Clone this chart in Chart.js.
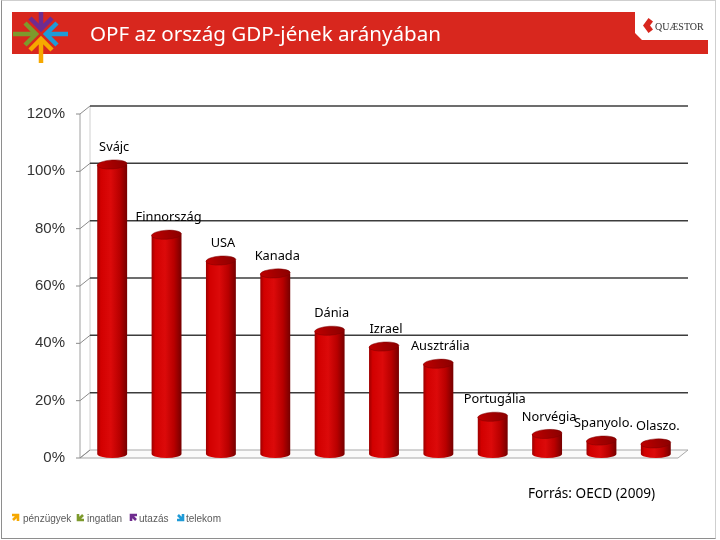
<!DOCTYPE html>
<html>
<head>
<meta charset="utf-8">
<script src="https://cdn.jsdelivr.net/npm/chart.js@4.4.1/dist/chart.umd.min.js"></script>
<style>
  html, body { margin: 0; padding: 0; background: #fff; }
  body { width: 720px; height: 540px; position: relative; overflow: hidden; font-family: "Noto Sans", sans-serif; }
  #frame { position: absolute; left: 1px; top: 0; width: 715px; height: 539px; box-sizing: border-box;
           border: 1px solid #cfcfcf; border-left-color: #8e8e8e; border-bottom-color: #8e8e8e; }
  #chart { position: absolute; left: 0; top: 0; }
  #deco { position: absolute; left: 0; top: 0; pointer-events: none; }
  #title { position: absolute; left: 90px; top: 20px; color: #fff; font-size: 20.6px; line-height: 26px; white-space: nowrap; }
  #source { position: absolute; left: 528px; top: 483px; font-size: 13.6px; line-height: 20px; color: #000; white-space: nowrap; }
</style>
</head>
<body>
<div id="frame"></div>
<canvas id="chart" width="720" height="540"></canvas>

<svg id="deco" width="720" height="540">
  <polygon points="12,12 635,12 635,33 642,40 708,40 708,54 12,54" fill="#d8271e"/>

  <!-- arrow star -->
  <g fill="none" stroke-width="4.5" stroke-linejoin="miter" stroke-linecap="butt">
    <g transform="translate(41,34) rotate(0)" stroke="#7d9a2c">
      <path d="M-28,0 L-5,0 M-16,-11 L-5,0 L-16,11"/>
    </g>
    <g transform="translate(41,34) rotate(90)" stroke="#6f2c8f">
      <path d="M-22,0 L-5,0 M-16,-11 L-5,0 L-16,11"/>
    </g>
    <g transform="translate(41,34) rotate(180)" stroke="#1f9bd7">
      <path d="M-27,0 L-5,0 M-16,-11 L-5,0 L-16,11"/>
    </g>
    <g transform="translate(41,34) rotate(270)" stroke="#f6a800">
      <path d="M-29,0 L-5,0 M-16,-11 L-5,0 L-16,11"/>
    </g>
  </g>

  <!-- quaestor mark -->
  <polygon points="643,25.5 648.5,18 653,21.5 650,25.5 653,29.5 648.5,33" fill="#d8271e"/>
  <text x="655" y="30" font-family="Liberation Serif" font-size="10" fill="#333">QUÆSTOR</text>

  <!-- footer -->
  <g fill="none" stroke-width="2.6">
    <path d="M12,515 L18,515 L18,521 M18,515 L13,520" stroke="#f6a800"/>
    <path d="M78,514 L78,520 L84,520 M78,520 L83,515" stroke="#7d9a2c"/>
    <path d="M131,521 L131,515 L137,515 M131,515 L136,520" stroke="#6f2c8f"/>
    <path d="M177,520 L183,520 L183,514 M183,520 L178,515" stroke="#1f9bd7"/>
  </g>
  <g font-family="Liberation Sans" font-size="10" fill="#5a5a5a">
    <text x="23" y="522">pénzügyek</text>
    <text x="87" y="522">ingatlan</text>
    <text x="139" y="522">utazás</text>
    <text x="186" y="522">telekom</text>
  </g>
</svg>

<div id="title">OPF az ország GDP-jének arányában</div>
<div id="source">Forrás: OECD (2009)</div>

<script>
// data (% of GDP)
const countries = ["Svájc", "Finnország", "USA", "Kanada", "Dánia", "Izrael", "Ausztrália", "Portugália", "Norvégia", "Spanyolo.", "Olaszo."];
const gdpShare = [101, 76.5, 67.5, 63, 43, 37.5, 31.5, 13, 7, 4.7, 3.7];
const yTicks = [0, 20, 40, 60, 80, 100, 120];

const barPct = 0.55;
const depthX = 5, depthY = 4;   // half of the 3d depth offset

// horizontal gradient so the bars look like cylinders
function cylinderFill(c) {
  const chart = c.chart;
  const xs = chart.scales.x;
  if (!xs || c.dataIndex === undefined) return "#c80000";
  const cx = xs.getPixelForValue(c.dataIndex);
  const w = (xs.getPixelForValue(1) - xs.getPixelForValue(0)) * barPct;
  if (!isFinite(cx) || !isFinite(w)) return "#c80000";
  const g = chart.ctx.createLinearGradient(cx - w / 2, 0, cx + w / 2, 0);
  g.addColorStop(0, "#9c0000");
  g.addColorStop(0.12, "#d20000");
  g.addColorStop(0.45, "#dc0a0a");
  g.addColorStop(0.75, "#b80000");
  g.addColorStop(1, "#760000");
  return g;
}

const frame3d = {
  id: "frame3d",
  beforeDatasetsDraw(chart) {
    const { ctx, chartArea: a, scales: { y } } = chart;
    const y0 = y.getPixelForValue(0);
    const yTop = y.getPixelForValue(120);
    ctx.save();
    // floor
    ctx.beginPath();
    ctx.moveTo(a.left - depthX, y0 + depthY);
    ctx.lineTo(a.right - depthX, y0 + depthY);
    ctx.lineTo(a.right + depthX, y0 - depthY);
    ctx.lineTo(a.left + depthX, y0 - depthY);
    ctx.closePath();
    ctx.fillStyle = "#fafafa";
    ctx.fill();
    ctx.strokeStyle = "#a8a8a8";
    ctx.lineWidth = 1;
    ctx.stroke();
    // side wall edges
    ctx.beginPath();
    ctx.moveTo(a.left + depthX, yTop - depthY);
    ctx.lineTo(a.left + depthX, y0 - depthY);
    ctx.strokeStyle = "#d0d0d0";
    ctx.stroke();
    ctx.beginPath();
    ctx.moveTo(a.left - depthX, yTop + depthY);
    ctx.lineTo(a.left - depthX, y0 + depthY);
    ctx.strokeStyle = "#a0a0a0";
    ctx.stroke();
    // grid on the back wall and ticks
    yTicks.forEach(v => {
      const p = y.getPixelForValue(v);
      ctx.beginPath();
      ctx.moveTo(a.left - depthX - 4, p + depthY);
      ctx.lineTo(a.left - depthX, p + depthY);
      ctx.lineTo(a.left + depthX, p - depthY);
      ctx.strokeStyle = "#8a8a8a";
      ctx.lineWidth = 1;
      ctx.stroke();
      if (v > 0) {
        ctx.beginPath();
        ctx.moveTo(a.left + depthX, p - depthY);
        ctx.lineTo(a.right + depthX, p - depthY);
        ctx.strokeStyle = "#3c3c3c";
        ctx.lineWidth = 1.5;
        ctx.stroke();
      }
    });
    ctx.restore();
  }
};

const cylinders = {
  id: "cylinders",
  afterDatasetsDraw(chart) {
    const ctx = chart.ctx;
    const meta = chart.getDatasetMeta(0);
    ctx.save();
    meta.data.forEach((bar, i) => {
      const { x, y, base, width } = bar.getProps(["x", "y", "base", "width"], true);
      const rx = width / 2, ry = 4;
      // rounded bottom
      ctx.beginPath();
      ctx.ellipse(x, base, rx, ry, 0, 0, Math.PI);
      ctx.fillStyle = bar.options.backgroundColor;
      ctx.fill();
      // top cap
      const g = ctx.createLinearGradient(x - rx, y + ry, x + rx, y - ry);
      g.addColorStop(0, "#c00000");
      g.addColorStop(0.5, "#a30000");
      g.addColorStop(1, "#8a0000");
      ctx.beginPath();
      ctx.ellipse(x, y, rx, ry + 0.5, -0.06, 0, Math.PI * 2);
      ctx.fillStyle = g;
      ctx.fill();
      ctx.strokeStyle = "rgba(120,0,0,0.6)";
      ctx.lineWidth = 0.8;
      ctx.stroke();
      // country label above the bar
      ctx.font = "12.8px 'Noto Sans'";
      ctx.fillStyle = "#000";
      ctx.textAlign = "center";
      ctx.textBaseline = "middle";
      ctx.fillText(countries[i], x + 2, y - 17);
    });
    ctx.restore();
  }
};

new Chart(document.getElementById("chart"), {
  type: "bar",
  data: {
    labels: countries,
    datasets: [{
      data: gdpShare,
      backgroundColor: cylinderFill,
      borderWidth: 0,
      barPercentage: barPct,
      categoryPercentage: 1
    }]
  },
  options: {
    responsive: false,
    animation: false,
    events: [],
    layout: { padding: { left: 0, top: 110, right: 37, bottom: 86 } },
    plugins: { legend: { display: false }, tooltip: { enabled: false } },
    scales: {
      x: { display: false, grid: { display: false } },
      y: {
        min: 0, max: 120,
        afterFit: s => { s.width = 85; },
        afterBuildTicks: s => { s.ticks = yTicks.map(v => ({ value: v })); },
        border: { display: false },
        grid: { display: false, drawTicks: false },
        ticks: {
          padding: 20,
          labelOffset: 4,
          color: "#333",
          font: { family: "Liberation Sans", size: 15 },
          callback: v => v + "%"
        }
      }
    }
  },
  plugins: [frame3d, cylinders]
});
</script>
</body>
</html>
